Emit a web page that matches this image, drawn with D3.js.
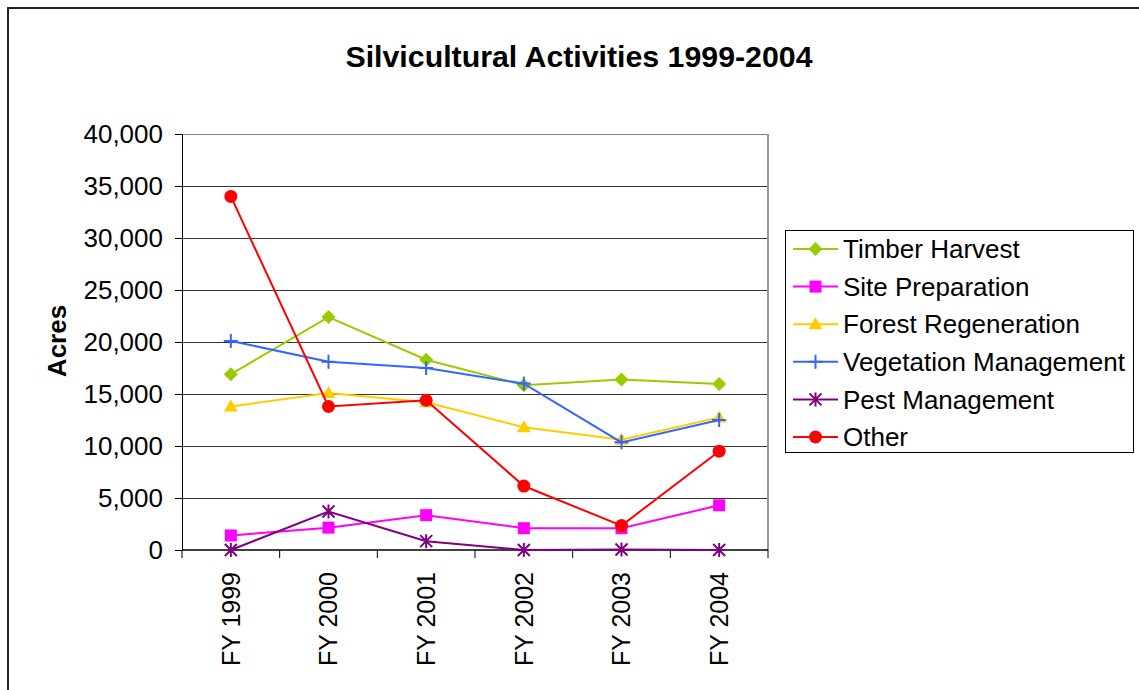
<!DOCTYPE html>
<html lang="en">
<head>
    <style>
        body { margin: 0; background: #fff; }
        text { font-family: "Liberation Sans", Arial, sans-serif; fill: #000; }
    </style>
    <script src="https://d3js.org/d3.v7.min.js"></script>
</head>
<body>
    <svg width="1139" height="690"></svg>
    <script>
        // data
        var years = ["FY 1999", "FY 2000", "FY 2001", "FY 2002", "FY 2003", "FY 2004"];
        var timberHarvest   = [16900, 22400, 18300, 15850, 16400, 15950];
        var sitePreparation = [1400, 2150, 3350, 2100, 2100, 4300];
        var forestRegen     = [13800, 15100, 14200, 11800, 10600, 12750];
        var vegetationMgmt  = [20100, 18100, 17500, 16000, 10350, 12500];
        var pestMgmt        = [0, 3700, 850, 0, 50, 0];
        var other           = [34000, 13800, 14400, 6150, 2350, 9500];
        var yTicks = [0, 5000, 10000, 15000, 20000, 25000, 30000, 35000, 40000];

        var series = [
            { name: "Timber Harvest", values: timberHarvest, color: "#99cc00", marker: "diamond" },
            { name: "Site Preparation", values: sitePreparation, color: "#ff00ff", marker: "square" },
            { name: "Forest Regeneration", values: forestRegen, color: "#ffcc00", marker: "triangle" },
            { name: "Vegetation Management", values: vegetationMgmt, color: "#3366ff", marker: "plus" },
            { name: "Pest Management", values: pestMgmt, color: "#800080", marker: "star" },
            { name: "Other", values: other, color: "#ff0000", marker: "circle" }
        ];

        var svg = d3.select("svg");
        var plotLeft = 182, plotRight = 768, plotTop = 134, plotBottom = 550;

        // outer chart border (runs off the page right and bottom)
        svg.append("rect")
            .attr("x", 8).attr("y", 8)
            .attr("width", 1200).attr("height", 800)
            .attr("fill", "none")
            .attr("stroke", "#222")
            .attr("stroke-width", 2);

        svg.append("text")
            .attr("x", 579).attr("y", 67)
            .attr("text-anchor", "middle")
            .attr("font-size", "30.3px")
            .attr("font-weight", "bold")
            .text("Silvicultural Activities 1999-2004");

        var x = d3.scaleBand().domain(years).range([plotLeft, plotRight]);
        var y = d3.scaleLinear().domain([0, 40000]).range([plotBottom, plotTop]);

        // gridlines
        svg.append("g").selectAll("line")
            .data(yTicks.slice(1))
            .enter().append("line")
            .attr("x1", plotLeft).attr("x2", plotRight)
            .attr("y1", function(d) { return y(d) + 0.5; })
            .attr("y2", function(d) { return y(d) + 0.5; })
            .attr("stroke", function(d) { return d === 40000 ? "#808080" : "#333"; })
            .attr("stroke-width", 1);

        // right border of plot area
        svg.append("line")
            .attr("x1", plotRight).attr("x2", plotRight)
            .attr("y1", plotTop).attr("y2", plotBottom)
            .attr("stroke", "#999").attr("stroke-width", 2);

        // y axis
        var yAxis = svg.append("g")
            .attr("transform", "translate(" + plotLeft + ",0)")
            .call(d3.axisLeft(y).tickValues(yTicks).tickFormat(d3.format(",")).tickSize(7).tickPadding(12));
        yAxis.selectAll("text").attr("font-size", "26px").attr("font-family", "Liberation Sans, Arial, sans-serif").attr("fill", "#000");
        yAxis.selectAll("line, path").attr("stroke", "#000");

        svg.append("text")
            .attr("transform", "translate(57,341) rotate(-90)")
            .attr("text-anchor", "middle")
            .attr("dy", "0.35em")
            .attr("font-size", "26px")
            .attr("font-weight", "bold")
            .text("Acres");

        // x axis: ticks on band boundaries
        var xg = svg.append("g");
        xg.append("line")
            .attr("x1", plotLeft).attr("x2", plotRight)
            .attr("y1", plotBottom).attr("y2", plotBottom)
            .attr("stroke", "#000").attr("stroke-width", 1.5);
        var edges = years.map(function(d) { return x(d); }).concat([plotRight]);
        xg.selectAll(".xtick")
            .data(edges)
            .enter().append("line")
            .attr("class", "xtick")
            .attr("x1", function(d) { return d; }).attr("x2", function(d) { return d; })
            .attr("y1", plotBottom).attr("y2", plotBottom + 8)
            .attr("stroke", "#000");
        xg.selectAll(".xlabel")
            .data(years)
            .enter().append("text")
            .attr("class", "xlabel")
            .attr("transform", function(d) {
                return "translate(" + (x(d) + x.bandwidth() / 2) + "," + (plotBottom + 22) + ") rotate(-90)";
            })
            .attr("text-anchor", "end")
            .attr("dy", "0.35em")
            .attr("font-size", "25px")
            .text(function(d) { return d; });

        function drawMarker(g, type, color) {
            if (type === "diamond") {
                g.append("path").attr("d", "M0,-7L7,0L0,7L-7,0Z").attr("fill", color);
            } else if (type === "square") {
                g.append("rect").attr("x", -6).attr("y", -6).attr("width", 12).attr("height", 12).attr("fill", color);
            } else if (type === "triangle") {
                g.append("path").attr("d", "M0,-7L7,5L-7,5Z").attr("fill", color);
            } else if (type === "plus") {
                g.append("path").attr("d", "M-7,0H7M0,-7V7").attr("stroke", color).attr("stroke-width", 2);
            } else if (type === "star") {
                g.append("path").attr("d", "M-6,-6L6,6M-6,6L6,-6M0,-7V7").attr("stroke", color).attr("stroke-width", 2);
            } else if (type === "circle") {
                g.append("circle").attr("r", 6.5).attr("fill", color);
            }
        }

        var line = d3.line()
            .x(function(d, i) { return x(years[i]) + x.bandwidth() / 2; })
            .y(function(d) { return y(d); });

        series.forEach(function(s) {
            svg.append("path")
                .datum(s.values)
                .attr("d", line)
                .attr("fill", "none")
                .attr("stroke", s.color)
                .attr("stroke-width", 2);
            s.values.forEach(function(v, i) {
                var g = svg.append("g")
                    .attr("transform", "translate(" + (x(years[i]) + x.bandwidth() / 2) + "," + y(v) + ")");
                drawMarker(g, s.marker, s.color);
            });
        });

        // legend
        var legend = svg.append("g");
        legend.append("rect")
            .attr("x", 785.5).attr("y", 230.5)
            .attr("width", 348).attr("height", 222)
            .attr("fill", "#fff")
            .attr("stroke", "#000");
        series.forEach(function(s, i) {
            var ly = 249 + i * 37.6;
            legend.append("line")
                .attr("x1", 793).attr("x2", 838)
                .attr("y1", ly).attr("y2", ly)
                .attr("stroke", s.color).attr("stroke-width", 2);
            drawMarker(legend.append("g").attr("transform", "translate(815.5," + ly + ")"), s.marker, s.color);
            legend.append("text")
                .attr("x", 843).attr("y", ly)
                .attr("dy", "0.35em")
                .attr("font-size", "26px")
                .text(s.name);
        });
    </script>
</body>
</html>
